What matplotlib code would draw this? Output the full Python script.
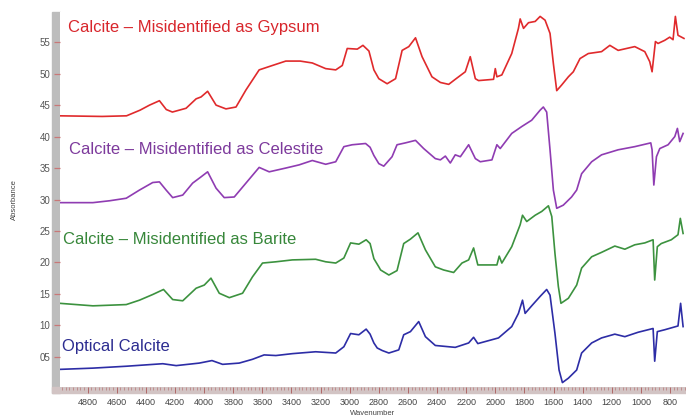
import matplotlib
matplotlib.use("Agg")
import matplotlib.pyplot as plt
import matplotlib.transforms as mtransforms
from matplotlib.patches import Rectangle

plt.rcParams['font.family'] = ['Liberation Sans', 'DejaVu Sans']

# spectra: wavenumber (cm-1) and absorbance, one pair per sample
gyp_wn = [4992, 4700, 4533, 4440, 4375, 4307, 4260, 4218, 4124, 4055, 4021, 3976, 3918,
          3850, 3781, 3713, 3622, 3531, 3439, 3340, 3257, 3165, 3096, 3051, 3017, 2948,
          2909, 2868, 2834, 2800, 2743, 2685, 2640, 2594, 2548, 2503, 2435, 2377, 2320,
          2275, 2206, 2172, 2137, 2115, 2012, 2000, 1989, 1955, 1887, 1841, 1829, 1806,
          1772, 1726, 1692, 1658, 1624, 1601, 1578, 1544, 1498, 1464, 1418, 1361, 1270,
          1213, 1156, 1042, 973, 939, 923, 900, 882, 836, 802, 779, 763, 745, 704]
gyp_abs = [43.3, 43.2, 43.3, 44.2, 45.0, 45.7, 44.3, 43.9, 44.5, 46.0, 46.3, 47.2, 45.0,
           44.4, 44.7, 47.4, 50.6, 51.3, 52.0, 52.0, 51.7, 50.8, 50.6, 51.3, 54.0, 53.9,
           54.5, 53.6, 50.6, 49.2, 48.4, 49.2, 53.7, 54.3, 55.7, 52.7, 49.5, 48.6, 48.3,
           49.1, 50.3, 52.7, 49.2, 48.9, 49.1, 50.8, 49.5, 49.8, 53.2, 57.2, 58.7, 57.2,
           58.1, 58.3, 59.1, 58.5, 56.4, 51.6, 47.3, 48.2, 49.5, 50.3, 52.4, 53.2, 53.5,
           54.5, 53.7, 54.3, 53.5, 51.9, 50.3, 55.1, 54.8, 55.3, 55.8, 55.4, 59.1, 56.1,
           55.6]

cel_wn = [4992, 4764, 4649, 4535, 4444, 4353, 4307, 4261, 4216, 4147, 4079, 4021, 3976,
          3918, 3862, 3793, 3713, 3622, 3553, 3439, 3348, 3257, 3165, 3096, 3040, 2983,
          2891, 2860, 2834, 2800, 2766, 2709, 2675, 2617, 2548, 2492, 2412, 2377, 2343,
          2309, 2275, 2240, 2183, 2137, 2103, 2023, 1989, 1966, 1887, 1818, 1750, 1692,
          1670, 1647, 1624, 1601, 1578, 1533, 1476, 1441, 1407, 1338, 1270, 1156, 1042,
          932, 923, 911, 893, 870, 813, 767, 749, 733, 710]
cel_abs = [29.5, 29.5, 29.8, 30.2, 31.5, 32.7, 32.8, 31.5, 30.3, 30.7, 32.6, 33.6, 34.4,
           31.8, 30.3, 30.4, 32.6, 35.1, 34.4, 35.0, 35.5, 36.2, 35.6, 36.0, 38.4, 38.7,
           38.9, 38.3, 37.0, 35.7, 35.3, 36.8, 38.7, 39.0, 39.4, 38.1, 36.5, 36.3, 36.9,
           35.8, 37.1, 36.8, 38.7, 36.5, 36.0, 36.3, 38.7, 38.1, 40.5, 41.6, 42.6, 44.2,
           44.7, 43.9, 37.9, 31.5, 28.6, 29.1, 30.4, 31.5, 34.1, 36.0, 37.1, 37.9, 38.4,
           39.0, 37.9, 32.3, 36.8, 38.1, 38.7, 40.0, 41.3, 39.2, 40.5]

bar_wn = [4992, 4764, 4535, 4444, 4353, 4279, 4216, 4147, 4055, 3999, 3953, 3896, 3827,
          3736, 3668, 3599, 3507, 3394, 3234, 3165, 3096, 3040, 2994, 2937, 2887, 2860,
          2834, 2800, 2788, 2731, 2675, 2629, 2583, 2531, 2480, 2412, 2355, 2286, 2229,
          2183, 2149, 2120, 1989, 1973, 1955, 1887, 1829, 1813, 1784, 1726, 1681, 1635,
          1612, 1590, 1567, 1549, 1498, 1441, 1407, 1338, 1270, 1179, 1110, 1042, 973,
          916, 905, 887, 860, 791, 745, 729, 710]
bar_abs = [13.5, 13.1, 13.3, 14.0, 14.9, 15.7, 14.1, 13.9, 15.9, 16.4, 17.5, 15.1, 14.4,
           15.1, 17.7, 19.9, 20.1, 20.4, 20.5, 20.1, 19.9, 20.7, 23.1, 22.9, 23.6, 23.0,
           20.6, 19.3, 18.8, 18.0, 18.7, 23.0, 23.7, 24.7, 22.0, 19.3, 18.8, 18.4, 19.9,
           20.4, 22.3, 19.6, 19.6, 21.0, 19.9, 22.5, 26.0, 27.5, 26.5, 27.5, 28.1, 29.0,
           27.3, 21.4, 16.2, 13.5, 14.3, 16.4, 19.1, 20.9, 21.6, 22.6, 22.1, 22.8, 23.1,
           23.6, 17.2, 22.5, 23.0, 23.6, 24.4, 27.0, 24.6]

opt_wn = [4992, 4764, 4535, 4284, 4192, 4033, 3946, 3873, 3759, 3668, 3588, 3507, 3394,
          3234, 3165, 3096, 3040, 2994, 2937, 2887, 2860, 2834, 2811, 2777, 2731, 2663,
          2629, 2583, 2526, 2480, 2412, 2275, 2183, 2149, 2120, 1978, 1887, 1841, 1813,
          1795, 1750, 1692, 1647, 1624, 1590, 1562, 1539, 1498, 1441, 1407, 1338, 1270,
          1179, 1110, 1019, 916, 905, 887, 836, 745, 727, 710]
opt_abs = [3.0, 3.2, 3.5, 3.9, 3.6, 4.0, 4.4, 3.8, 4.0, 4.6, 5.3, 5.2, 5.5,
           5.8, 5.7, 5.6, 6.6, 8.7, 8.5, 9.4, 8.6, 7.2, 6.4, 6.0, 5.6, 6.1,
           8.5, 9.0, 10.6, 8.2, 6.8, 6.5, 7.2, 8.1, 7.1, 8.0, 9.8, 11.9, 14.0,
           11.9, 13.1, 14.6, 15.7, 14.8, 8.7, 2.9, 0.9, 1.6, 2.9, 5.6, 7.2, 8.0,
           8.6, 8.2, 8.9, 9.5, 4.3, 9.0, 9.3, 9.9, 13.5, 9.8]

labels = ["Calcite \u2013 Misidentified as Gypsum",
          "Calcite \u2013 Misidentified as Celestite",
          "Calcite \u2013 Misidentified as Barite",
          "Optical Calcite"]
line_colors = ["#e02a2c", "#8f3cb2", "#3c923f", "#2d2da6"]
text_colors = ["#d8262c", "#7d3a9c", "#37873a", "#2c2c90"]
# label anchors: x as axes fraction, y in data units
label_pos = [(0.0128, 57.4), (0.0144, 37.9), (0.0048, 23.6), (0.0032, 6.7)]

x_ticks = [4800, 4600, 4400, 4200, 4000, 3800, 3600, 3400, 3200, 3000, 2800, 2600,
           2400, 2200, 2000, 1800, 1600, 1400, 1200, 1000, 800]
y_ticks = [5, 10, 15, 20, 25, 30, 35, 40, 45, 50, 55]
y_tick_labels = ["05", "10", "15", "20", "25", "30", "35", "40", "45", "50", "55"]

fig = plt.figure(figsize=(6.86, 4.17), dpi=100)
ax = fig.add_axes([60 / 686, 30 / 417, 626 / 686, 375 / 417])

series = [(gyp_wn, gyp_abs), (cel_wn, cel_abs), (bar_wn, bar_abs), (opt_wn, opt_abs)]
for (wn, ab), c in zip(series, line_colors):
    ax.plot(wn, ab, color=c, lw=1.2, solid_joinstyle='round')

mixed = mtransforms.blended_transform_factory(ax.transAxes, ax.transData)
for lab, c, (tx, ty) in zip(labels, text_colors, label_pos):
    ax.text(tx, ty, lab, color=c, fontsize=12, va='center', ha='left', transform=mixed)

ax.set_xlim(4990, 690)
ax.set_ylim(0.2, 59.8)
ax.set_xticks(x_ticks)
ax.set_xticklabels([str(t) for t in x_ticks])
ax.set_xticks(range(700, 5000, 25), minor=True)
ax.set_yticks(y_ticks)
ax.set_yticklabels(y_tick_labels)

for s in ax.spines.values():
    s.set_visible(False)

ax.tick_params(axis='y', direction='out', length=4.3, width=0.9, color='#c87878',
               labelsize=7, labelcolor='#555555', pad=2.5)
ax.tick_params(axis='x', which='major', direction='out', length=4, width=0.7,
               color='#b06868', labelsize=6.5, labelcolor='#444444', pad=4)
ax.tick_params(axis='x', which='minor', direction='out', length=2.5, width=0.5,
               color='#b87878')

# gray frame bars on the left and bottom, behind the ticks
fig.patches.append(Rectangle((52 / 686, 24 / 417), 8 / 686, 381 / 417,
                             transform=fig.transFigure, color='#bdbdbd', zorder=-1))
fig.patches.append(Rectangle((52 / 686, 24 / 417), 634 / 686, 6 / 417,
                             transform=fig.transFigure, color='#d2c4c4', zorder=-1))

ax.set_ylabel("Absorbance", fontsize=5.5, color='#444444', labelpad=16)
ax.set_xlabel("Wavenumber", fontsize=5.5, color='#444444', labelpad=2)

fig.savefig("out.png", dpi=100)
